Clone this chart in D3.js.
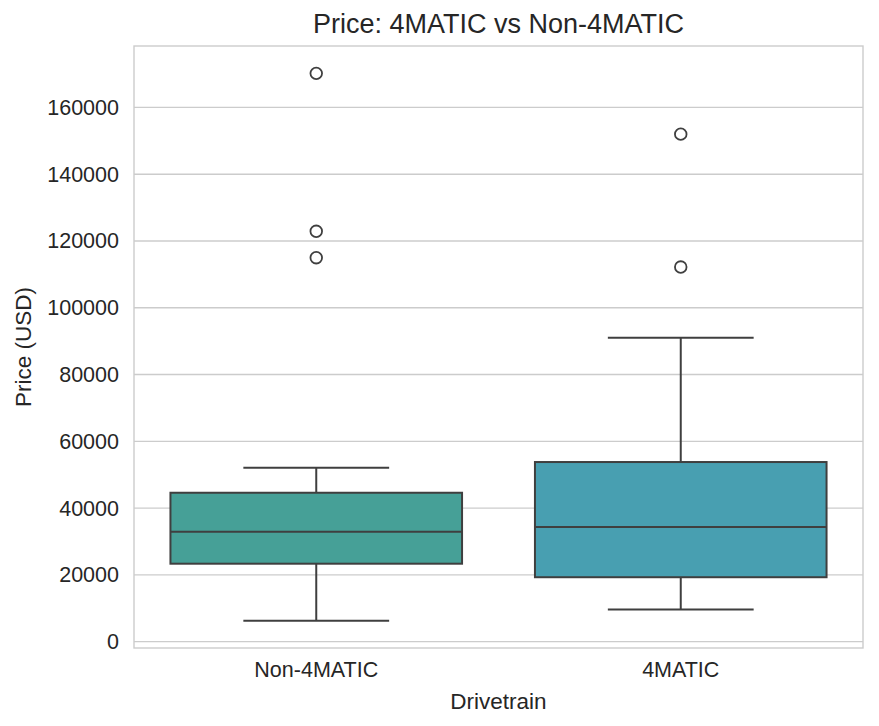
<!DOCTYPE html>
<html>
<head>
<meta charset="utf-8">
<script src="https://cdn.jsdelivr.net/npm/d3@7"></script>
<style>
  body { margin: 0; background: #fff; }
  text { font-family: "Liberation Sans", Arial, sans-serif; fill: #262626; }
</style>
</head>
<body>
<script>
// box statistics
const categories = ["Non-4MATIC", "4MATIC"];
const whiskerLow = [6300, 9600];
const q1 = [23350, 19300];
const median = [32950, 34350];
const q3 = [44600, 53800];
const whiskerHigh = [52100, 91000];
const outliers = [[115000, 122900, 170200], [112200, 152000]];
const colors = ["#46a097", "#489fb1"];
const yTicks = [0, 20000, 40000, 60000, 80000, 100000, 120000, 140000, 160000];

const width = 879, height = 726;
const margin = {top: 46, right: 16, bottom: 78, left: 134};

const svg = d3.select("body")
    .append("svg")
    .attr("width", width)
    .attr("height", height);

// 5% margins like matplotlib
const allVals = whiskerLow.concat(whiskerHigh, outliers.flat());
const lo = d3.min(allVals), hi = d3.max(allVals);
const pad = (hi - lo) * 0.05;

const x = d3.scaleBand()
    .domain(categories)
    .range([margin.left, width - margin.right])
    .padding(0);

const y = d3.scaleLinear()
    .domain([lo - pad, hi + pad])
    .range([height - margin.bottom, margin.top]);

// grid
svg.append("g")
    .selectAll("line")
    .data(yTicks)
    .enter().append("line")
    .attr("x1", margin.left)
    .attr("x2", width - margin.right)
    .attr("y1", d => y(d))
    .attr("y2", d => y(d))
    .attr("stroke", "#cccccc")
    .attr("stroke-width", 1.4);

// frame
svg.append("rect")
    .attr("x", margin.left)
    .attr("y", margin.top)
    .attr("width", width - margin.left - margin.right)
    .attr("height", height - margin.top - margin.bottom)
    .attr("fill", "none")
    .attr("stroke", "#cccccc")
    .attr("stroke-width", 1.4);

// y axis labels
const yAxis = svg.append("g")
    .attr("transform", `translate(${margin.left},0)`)
    .call(d3.axisLeft(y).tickValues(yTicks).tickSize(0).tickPadding(15).tickFormat(d3.format("d")));
yAxis.select(".domain").remove();
yAxis.selectAll("text").style("font-size", "21.5px").attr("fill", "#262626");

// x axis labels
const xAxis = svg.append("g")
    .attr("transform", `translate(0,${height - margin.bottom})`)
    .call(d3.axisBottom(x).tickSize(0).tickPadding(14));
xAxis.select(".domain").remove();
xAxis.selectAll("text").style("font-size", "21.5px").attr("fill", "#262626");

const stats = categories.map((c, i) => ({
    cat: c, low: whiskerLow[i], q1: q1[i], med: median[i], q3: q3[i],
    high: whiskerHigh[i], out: outliers[i], color: colors[i]
}));

const boxW = x.bandwidth() * 0.8;
const capW = boxW / 2;
const lineColor = "#3f3f3f";

const g = svg.selectAll(".box")
    .data(stats)
    .enter().append("g")
    .attr("class", "box")
    .attr("transform", d => `translate(${x(d.cat) + x.bandwidth() / 2},0)`);

// whiskers
g.append("line")
    .attr("x1", 0).attr("x2", 0)
    .attr("y1", d => y(d.low)).attr("y2", d => y(d.q1))
    .attr("stroke", lineColor).attr("stroke-width", 2);
g.append("line")
    .attr("x1", 0).attr("x2", 0)
    .attr("y1", d => y(d.q3)).attr("y2", d => y(d.high))
    .attr("stroke", lineColor).attr("stroke-width", 2);

// caps
g.append("line")
    .attr("x1", -capW / 2).attr("x2", capW / 2)
    .attr("y1", d => y(d.low)).attr("y2", d => y(d.low))
    .attr("stroke", lineColor).attr("stroke-width", 2);
g.append("line")
    .attr("x1", -capW / 2).attr("x2", capW / 2)
    .attr("y1", d => y(d.high)).attr("y2", d => y(d.high))
    .attr("stroke", lineColor).attr("stroke-width", 2);

// boxes
g.append("rect")
    .attr("x", -boxW / 2)
    .attr("width", boxW)
    .attr("y", d => y(d.q3))
    .attr("height", d => y(d.q1) - y(d.q3))
    .attr("fill", d => d.color)
    .attr("stroke", lineColor)
    .attr("stroke-width", 2);

// median
g.append("line")
    .attr("x1", -boxW / 2).attr("x2", boxW / 2)
    .attr("y1", d => y(d.med)).attr("y2", d => y(d.med))
    .attr("stroke", lineColor).attr("stroke-width", 2);

// outliers
g.selectAll("circle")
    .data(d => d.out)
    .enter().append("circle")
    .attr("cx", 0)
    .attr("cy", v => y(v))
    .attr("r", 5.8)
    .attr("fill", "none")
    .attr("stroke", lineColor)
    .attr("stroke-width", 1.8);

// title
svg.append("text")
    .attr("x", (margin.left + width - margin.right) / 2)
    .attr("y", 33)
    .attr("text-anchor", "middle")
    .style("font-size", "27px")
    .text("Price: 4MATIC vs Non-4MATIC");

// axis titles
svg.append("text")
    .attr("x", (margin.left + width - margin.right) / 2)
    .attr("y", 709)
    .attr("text-anchor", "middle")
    .style("font-size", "22.5px")
    .text("Drivetrain");

svg.append("text")
    .attr("transform", `translate(31,${(margin.top + height - margin.bottom) / 2}) rotate(-90)`)
    .attr("text-anchor", "middle")
    .style("font-size", "22.5px")
    .text("Price (USD)");
</script>
</body>
</html>
